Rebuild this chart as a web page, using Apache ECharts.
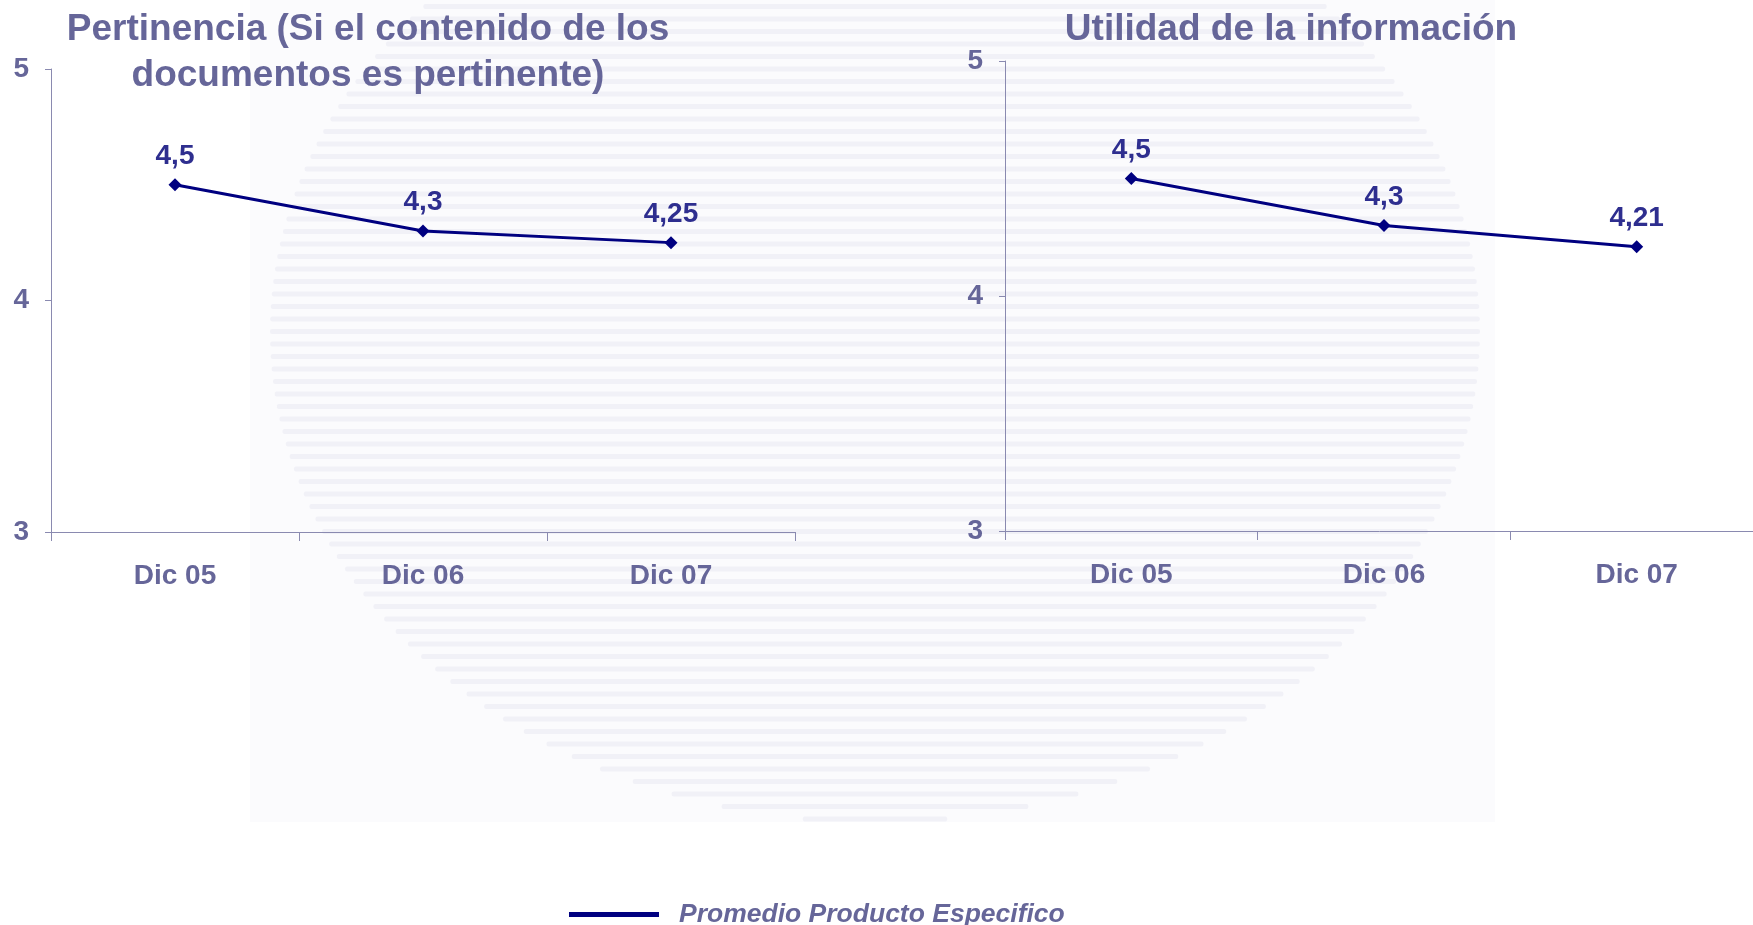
<!DOCTYPE html>
<html><head><meta charset="utf-8">
<script src="https://cdn.jsdelivr.net/npm/echarts@6/dist/echarts.min.js"></script>
<style>html,body{margin:0;padding:0;background:#fff}#c{width:1753px;height:925px}</style>
</head><body><div id="c"></div>
<script>
const categories = ['Dic 05', 'Dic 06', 'Dic 07'];
const pertinencia = [4.5, 4.3, 4.25];
const utilidad = [4.5, 4.3, 4.21];
const yTicks = [3, 4, 5];
const seriesName = 'Promedio Producto Especifico';
const titleLeft = 'Pertinencia (Si el contenido de los\ndocumentos es pertinente)';
const titleRight = 'Utilidad de la información';

const FONT = '"Liberation Sans", Arial, sans-serif';
const LABEL = '#666699';
const NAVY = '#000080';
const AXIS = '#8a8ab0';

// faint decorative striped globe in the background
function watermark(){
  const els = [{type:'rect', shape:{x:250,y:0,width:1245,height:822}, style:{fill:'#fbfbfd'}, z:-20, silent:true}];
  const cx = 875, cy = 330, rx = 605, ry = 490;
  for (let y = 4; y < cy + ry; y += 12.5) {
    const t = (y - cy) / ry;
    if (Math.abs(t) >= 1) continue;
    const hw = rx * Math.sqrt(1 - t * t);
    els.push({type:'rect', shape:{x:cx - hw, y:y, width:2 * hw, height:5, r:2},
      style:{fill:'#f1f1f7'}, z:-19, silent:true});
  }
  return els;
}

function xAxis(gi){
  return {type:'category', gridIndex:gi, data:categories, boundaryGap:true,
    axisLine:{lineStyle:{color:AXIS,width:1}},
    axisTick:{show:true,length:9,lineStyle:{color:AXIS}},
    axisLabel:{color:LABEL,fontFamily:FONT,fontWeight:'bold',fontSize:28,margin:30},
    splitLine:{show:false}};
}
function yAxis(gi){
  return {type:'value', gridIndex:gi, min:yTicks[0], max:yTicks[yTicks.length-1], interval:1,
    axisLine:{show:true,lineStyle:{color:AXIS,width:1}},
    axisTick:{show:true,length:6,lineStyle:{color:AXIS}},
    axisLabel:{color:LABEL,fontFamily:FONT,fontWeight:'bold',fontSize:28,margin:22},
    splitLine:{show:false}};
}
function series(gi, data){
  return {name:seriesName, type:'line', xAxisIndex:gi, yAxisIndex:gi, data:data,
    symbol:'diamond', symbolSize:13, lineStyle:{color:NAVY,width:3},
    itemStyle:{color:NAVY},
    label:{show:true,position:'top',distance:8,color:'#2e2e8f',fontFamily:FONT,fontWeight:'bold',fontSize:28,
      formatter:p=>String(p.value).replace('.',',')}};
}

const chart = echarts.init(document.getElementById('c'));
chart.setOption({
  backgroundColor:'#ffffff',
  animation:false,
  graphic:{elements:watermark()},
  title:[
    {text:titleLeft, left:363, top:2, textAlign:'center',
     textStyle:{color:LABEL,fontFamily:FONT,fontWeight:'bold',fontSize:37,lineHeight:46,align:'center'}},
    {text:titleRight, left:1286, top:2, textAlign:'center',
     textStyle:{color:LABEL,fontFamily:FONT,fontWeight:'bold',fontSize:37,lineHeight:46}}
  ],
  grid:[
    {left:51, top:69, width:744, height:463, outerBoundsMode:'none'},
    {left:1005, top:61, width:758, height:470, outerBoundsMode:'none'}
  ],
  xAxis:[xAxis(0), xAxis(1)],
  yAxis:[yAxis(0), yAxis(1)],
  legend:{data:[seriesName], left:564, top:896, itemWidth:90, itemHeight:5, icon:'rect',
    itemStyle:{color:NAVY},
    textStyle:{color:LABEL,fontFamily:FONT,fontWeight:'bold',fontStyle:'italic',fontSize:26.5,padding:[0,0,0,15]}},
  series:[series(0,pertinencia), series(1,utilidad)]
});
</script></body></html>
